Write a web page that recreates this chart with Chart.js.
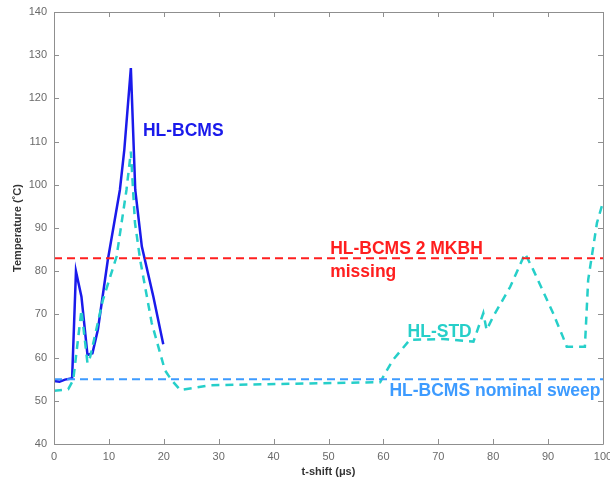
<!DOCTYPE html>
<html>
<head>
<meta charset="utf-8">
<script src="https://cdn.jsdelivr.net/npm/chart.js@4/dist/chart.umd.min.js"></script>
<style>
  html, body { margin: 0; padding: 0; background: #fff; }
  #wrap { width: 610px; height: 484px; }
</style>
</head>
<body>
<div id="wrap"><canvas id="chart_temp"></canvas></div>
<script>
// HL-BCMS (solid blue)
const bcmsX = [0, 1, 2, 3.3, 4, 5, 6.1, 7, 8, 9.8, 12, 12.8, 14, 14.8, 16, 18.1, 19.9];
const bcmsY = [54.6, 54.4, 54.9, 55.2, 80, 74.1, 60.6, 61, 66.5, 82.6, 98.8, 108, 127, 98.8, 85.7, 74.1, 63.1];

// HL-STD (dashed cyan)
const stdX = [0, 2.6, 3.5, 5, 6.1, 6.6, 8.9, 11.4, 13.2, 14, 14.75, 15.7, 17.8, 20.2, 21.4, 23, 28.4, 59.4,
              61.7, 64.8, 70.9, 76.4, 78.2, 78.8, 80, 83.1, 85.8, 87.3, 90.9, 92.7, 93.4, 96.7, 97.3, 98.9, 100];
const stdY = [52.3, 52.7, 54.8, 71, 58.7, 60.2, 73.3, 83.4, 98.8, 107.7, 91.2, 82.6, 68, 57.1, 54.8, 52.5, 53.6, 54.3,
              59.4, 64.1, 64.3, 63.7, 70.3, 66.4, 69.5, 76.4, 84.1, 80.3, 70.3, 64.8, 62.5, 62.5, 78, 91.2, 96];

// reference levels
const missingLevel = 83;
const nominalLevel = 55;

// axes
const xTicks = [0, 10, 20, 30, 40, 50, 60, 70, 80, 90, 100];
const yTicks = [40, 50, 60, 70, 80, 90, 100, 110, 120, 130, 140];

// text annotations, placed in data coordinates
const notes = [
  { text: "HL-BCMS", x: 16.2, y: 111.3, color: "#1a1aeb" },
  { text: "HL-BCMS 2 MKBH", x: 50.3, y: 84.0, color: "#ff1f1f" },
  { text: "missing", x: 50.3, y: 78.7, color: "#ff1f1f" },
  { text: "HL-STD", x: 64.4, y: 64.8, color: "#26cfc9" },
  { text: "HL-BCMS nominal sweep", x: 61.1, y: 51.0, color: "#3d9bff" }
];

const FONT = "'Liberation Sans', Arial, sans-serif";

function pts(xs, ys) {
  return xs.map((x, i) => ({ x: x, y: ys[i] }));
}

// frame with inward ticks on all four sides, plus the text labels
const framePlugin = {
  id: "frame",
  afterDatasetsDraw(chart) {
    const ctx = chart.ctx;
    const a = chart.chartArea;
    const xs = chart.scales.x, ys = chart.scales.y;
    ctx.save();
    ctx.strokeStyle = "#8f8f8f";
    ctx.lineWidth = 1;
    ctx.beginPath();
    ctx.rect(Math.round(a.left) + 0.5, Math.round(a.top) + 0.5,
             Math.round(a.right - a.left), Math.round(a.bottom - a.top));
    const len = 5;
    xTicks.forEach(v => {
      const px = Math.round(xs.getPixelForValue(v)) + 0.5;
      ctx.moveTo(px, a.bottom); ctx.lineTo(px, a.bottom - len);
      ctx.moveTo(px, a.top); ctx.lineTo(px, a.top + len);
    });
    yTicks.forEach(v => {
      const py = Math.round(ys.getPixelForValue(v)) + 0.5;
      ctx.moveTo(a.left, py); ctx.lineTo(a.left + len, py);
      ctx.moveTo(a.right, py); ctx.lineTo(a.right - len, py);
    });
    ctx.stroke();

    ctx.font = "bold 17.5px " + FONT;
    ctx.textAlign = "left";
    ctx.textBaseline = "alphabetic";
    notes.forEach(n => {
      ctx.fillStyle = n.color;
      ctx.fillText(n.text, xs.getPixelForValue(n.x), ys.getPixelForValue(n.y));
    });
    ctx.restore();
  }
};

window.onload = () => {
  const ctx = document.getElementById("chart_temp").getContext("2d");

  new Chart(ctx, {
    type: "line",
    data: {
      datasets: [
        {
          label: "HL-BCMS 2 MKBH missing",
          data: pts([0, 100], [missingLevel, missingLevel]),
          borderColor: "#ff1f1f",
          borderWidth: 2,
          borderDash: [8, 5]
        },
        {
          label: "HL-BCMS nominal sweep",
          data: pts([0, 100], [nominalLevel, nominalLevel]),
          borderColor: "#3d9bff",
          borderWidth: 2,
          borderDash: [8, 5]
        },
        {
          label: "HL-STD",
          data: pts(stdX, stdY),
          borderColor: "#26cfc9",
          borderWidth: 2.5,
          borderDash: [8, 6]
        },
        {
          label: "HL-BCMS",
          data: pts(bcmsX, bcmsY),
          borderColor: "#1a1aeb",
          borderWidth: 2.5
        }
      ]
    },
    options: {
      responsive: true,
      maintainAspectRatio: false,
      animation: false,
      events: [],
      elements: { point: { radius: 0 }, line: { tension: 0, fill: false } },
      layout: { padding: { top: 12, right: 7, left: 0, bottom: 0 } },
      plugins: {
        legend: { display: false },
        tooltip: { enabled: false }
      },
      scales: {
        x: {
          type: "linear",
          min: 0,
          max: 100,
          afterBuildTicks: s => { s.ticks = xTicks.map(v => ({ value: v })); },
          afterFit: s => { s.height = 40; s.paddingLeft = 0; s.paddingRight = 0; },
          grid: { display: false, drawTicks: false },
          border: { display: false },
          ticks: { color: "#6a6a6a", padding: 6, font: { family: FONT, size: 11 }, maxRotation: 0 },
          title: {
            display: true,
            text: "t-shift (\u03bcs)",
            color: "#333",
            padding: { top: 0, bottom: 5 },
            font: { family: FONT, size: 11, weight: "bold" }
          }
        },
        y: {
          min: 40,
          max: 140,
          afterBuildTicks: s => { s.ticks = yTicks.map(v => ({ value: v })); },
          afterFit: s => { s.width = 54; s.paddingTop = 0; s.paddingBottom = 0; },
          grid: { display: false, drawTicks: false },
          border: { display: false },
          ticks: { color: "#6a6a6a", padding: 7, font: { family: FONT, size: 11 } },
          title: {
            display: true,
            text: "Temperature (\u02daC)",
            color: "#333",
            padding: { top: 11, bottom: 0 },
            font: { family: FONT, size: 11, weight: "bold" }
          }
        }
      }
    },
    plugins: [framePlugin]
  });
};
</script>
</body>
</html>
